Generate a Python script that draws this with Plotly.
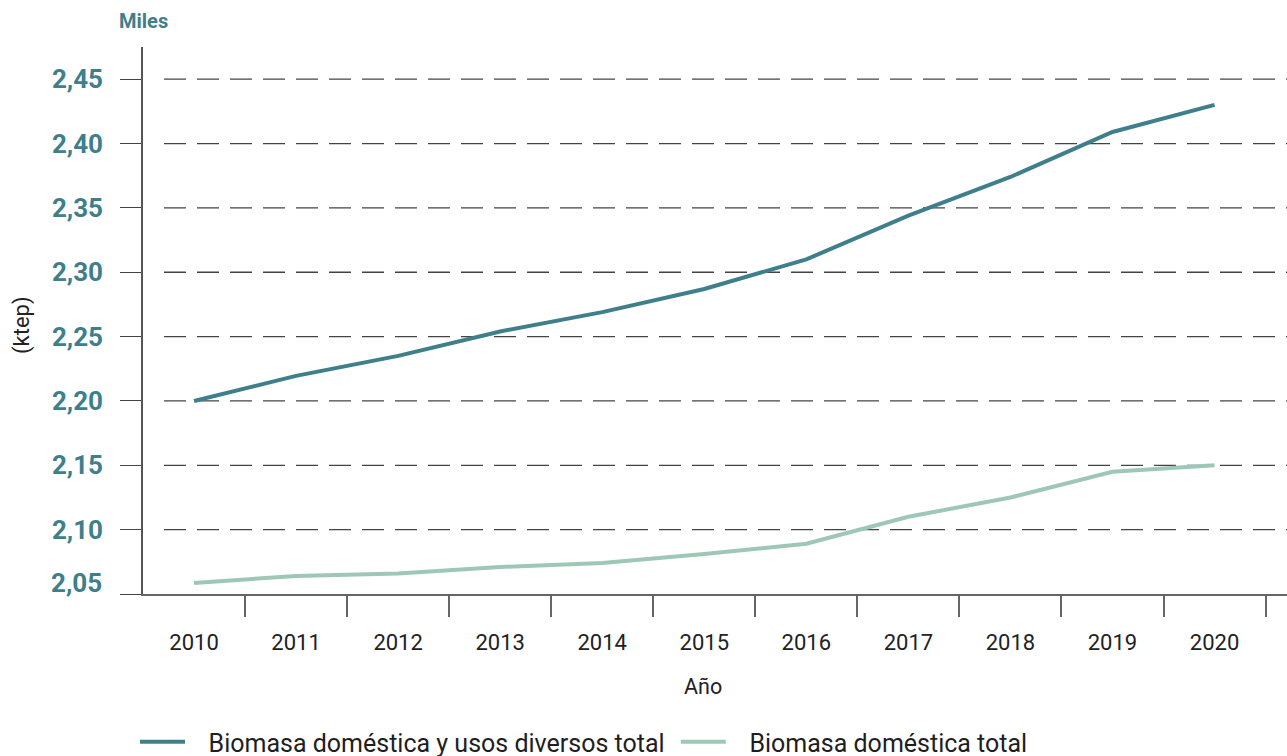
import plotly.graph_objects as go

years = [2010, 2011, 2012, 2013, 2014, 2015, 2016, 2017, 2018, 2019, 2020]
# values in thousands of ktep ("Miles")
biomasa_usos_diversos = [2.200, 2.2195, 2.235, 2.254, 2.269, 2.287, 2.310, 2.344, 2.374, 2.409, 2.430]
biomasa_domestica = [2.0586, 2.064, 2.066, 2.071, 2.074, 2.081, 2.089, 2.110, 2.125, 2.145, 2.150]
y_ticks = [2.05, 2.10, 2.15, 2.20, 2.25, 2.30, 2.35, 2.40, 2.45]
series_names = ["Biomasa doméstica y usos diversos total", "Biomasa doméstica total"]

TEAL = "#3e7f8b"
LIGHT = "#9fc7b8"
FONT = "Roboto"
PLOT_W = 1287 - 143
PLOT_H = 594 - 47

fig = go.Figure()
fig.add_trace(go.Scatter(x=years, y=biomasa_usos_diversos, mode="lines",
                         name="\u00a0\u00a0\u00a0" + series_names[0] + "\u00a0",
                         line=dict(color=TEAL, width=4)))
fig.add_trace(go.Scatter(x=years, y=biomasa_domestica, mode="lines",
                         name="\u00a0\u00a0\u00a0" + series_names[1],
                         line=dict(color=LIGHT, width=4)))

# dashed horizontal grid lines (start a little right of the y axis)
for v in y_ticks[1:]:
    fig.add_shape(type="line", xref="paper", yref="y", x0=21 / PLOT_W, x1=1, y0=v, y1=v,
                  line=dict(color="#444444", width=1.3, dash="22px,11px"), layer="below")

y_text = ["" if v == y_ticks[0] else f"{v:.2f}".replace(".", ",") for v in y_ticks]

fig.update_layout(
    width=1287, height=756,
    margin=dict(l=143, r=0, t=47, b=162, autoexpand=False),
    paper_bgcolor="white", plot_bgcolor="white",
    separators=",.",
    font=dict(family=FONT, color="#222222"),
    showlegend=True,
    legend=dict(orientation="h", x=-8 / PLOT_W, xanchor="left", y=(594 - 742) / PLOT_H,
                yanchor="middle", font=dict(size=25, color="#1e1e1e"), itemwidth=45,
                traceorder="normal"),
    annotations=[
        dict(text="<b>Miles</b>", xref="paper", yref="paper", x=0, y=1.0 + 26 / PLOT_H,
             xanchor="center", yanchor="middle", showarrow=False,
             font=dict(size=20, color=TEAL, family=FONT)),
        dict(text="(ktep)", xref="paper", yref="paper", x=(22 - 143) / PLOT_W, y=(594 - 325) / PLOT_H,
             xanchor="center", yanchor="middle", showarrow=False, textangle=-90,
             font=dict(size=22, color="#222222", family=FONT)),
        dict(text="Año", xref="paper", yref="paper", x=(703 - 143) / PLOT_W, y=(594 - 686) / PLOT_H,
             xanchor="center", yanchor="middle", showarrow=False,
             font=dict(size=21.5, color="#222222", family=FONT)),
        dict(text="<b>" + f"{y_ticks[0]:.2f}".replace(".", ",") + "</b>", xref="paper", yref="y",
             x=(104 - 143) / PLOT_W, y=y_ticks[0], yshift=11, xanchor="right", yanchor="middle",
             showarrow=False, font=dict(size=26, color=TEAL, family=FONT)),
    ],
)

fig.update_xaxes(
    range=[2009.5, 2020.71], tickmode="array", tickvals=years, ticktext=[str(y) for y in years],
    ticks="", showgrid=False, zeroline=False, automargin=False,
    showline=True, linecolor="#666666", linewidth=1.5,
    tickfont=dict(size=22, color="#222222"),
    ticklabelstandoff=28,
    minor=dict(tickvals=[y + 0.5 for y in years], ticks="outside", ticklen=21,
               tickcolor="#666666", tickwidth=1.5, showgrid=False),
)
fig.update_yaxes(
    range=[2.05, 2.475], tickmode="array", tickvals=y_ticks, ticktext=y_text,
    showgrid=False, zeroline=False, automargin=False,
    ticks="outside", ticklen=21, tickcolor="#444444", tickwidth=1.3,
    showline=True, linecolor="#555555", linewidth=1.5,
    tickfont=dict(size=26, color=TEAL, family=FONT, weight="bold"),
    ticklabelstandoff=12,
)

fig.write_html("out.html", config={"displayModeBar": False},
               post_script="document.body.style.margin='0px';")
